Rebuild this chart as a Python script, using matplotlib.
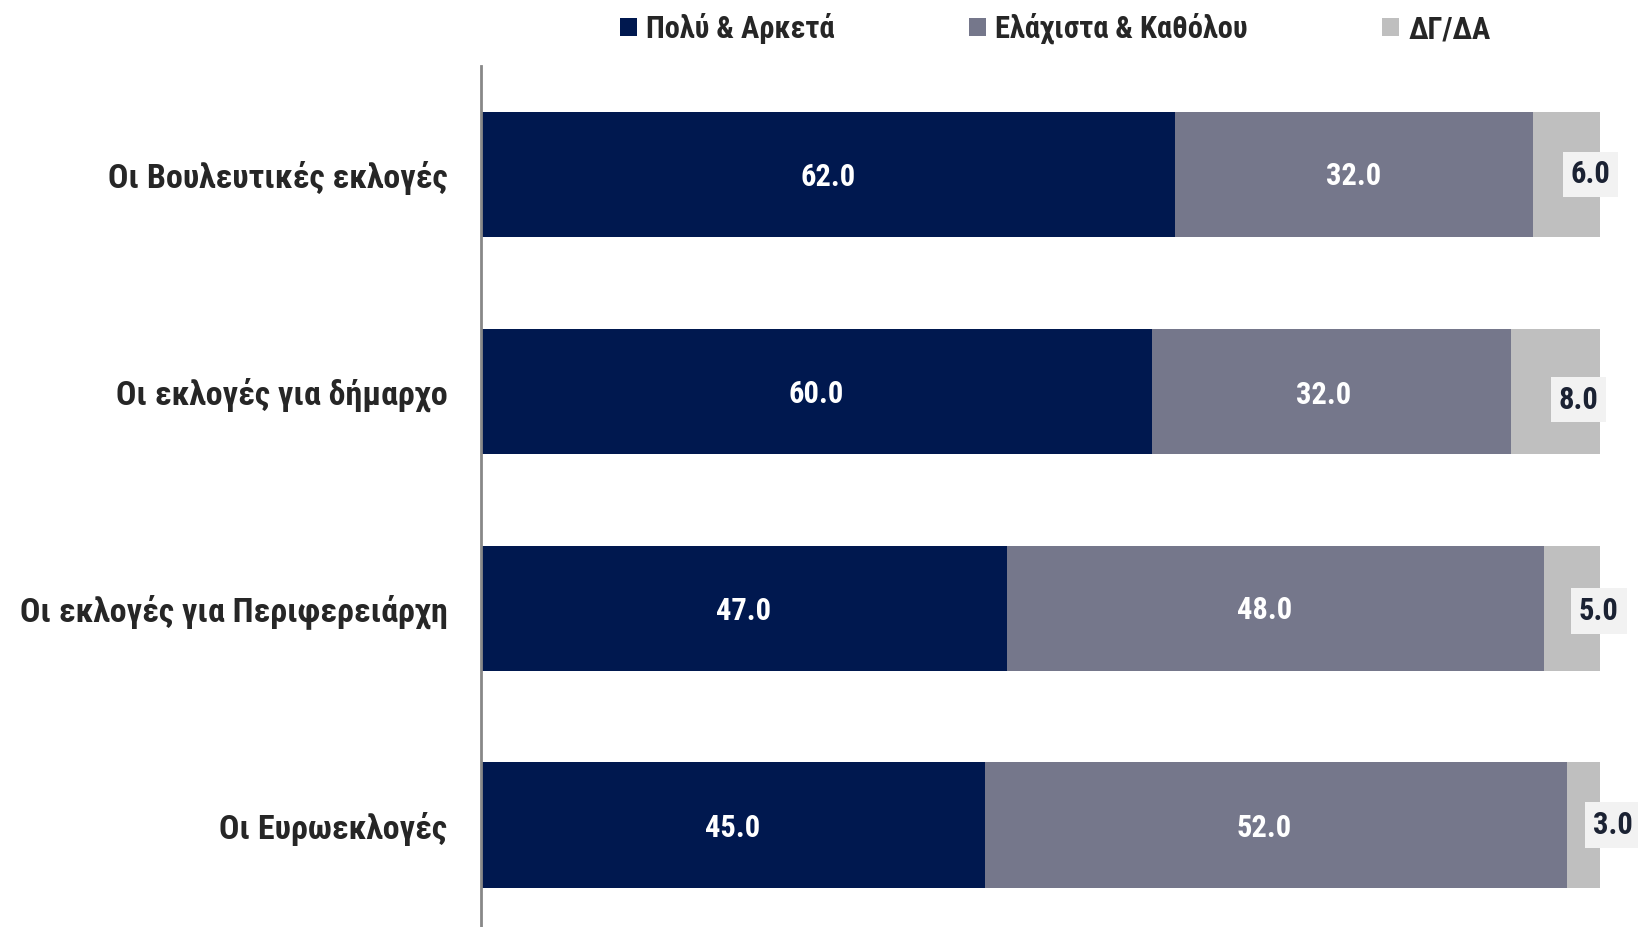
import matplotlib
matplotlib.use('Agg')
import matplotlib.pyplot as plt
from matplotlib.patches import Patch
import numpy as np

plt.rcParams['font.family'] = ['Roboto Condensed', 'DejaVu Sans']
plt.rcParams['font.weight'] = 'bold'

categories = ['Οι Βουλευτικές εκλογές', 'Οι εκλογές για δήμαρχο',
              'Οι εκλογές για Περιφερειάρχη', 'Οι Ευρωεκλογές']
series_names = ['Πολύ & Αρκετά', 'Ελάχιστα & Καθόλου', 'ΔΓ/ΔΑ']
much = [62.0, 60.0, 47.0, 45.0]
little = [32.0, 32.0, 48.0, 52.0]
dkna = [6.0, 8.0, 5.0, 3.0]

colors = ['#00184F', '#75778B', '#BFBFBF']
# small manual nudges (points) of the labels, as in the original
mid_nudge = [(0, -1), (-6, -3), (-8, -1), (-8, -2)]
dkna_nudge = [(-7, 0), (-16, -6), (-1, -2), (9, 0)]

fig = plt.figure(figsize=(16.38, 9.27), dpi=100)
ax = fig.add_axes([0.2935, 0.0, 0.6835, 0.929])

y = np.arange(len(categories))
left = np.zeros(len(categories))
for vals, col in zip([much, little, dkna], colors):
    ax.barh(y, vals, left=left, height=0.577, color=col)
    left += np.array(vals)

for i in range(len(categories)):
    ax.annotate(f'{much[i]:.1f}', xy=(much[i] / 2, y[i]), xytext=(0, -2),
                textcoords='offset points', ha='center', va='center',
                color='white', fontsize=22)
    ax.annotate(f'{little[i]:.1f}', xy=(much[i] + little[i] / 2, y[i]), xytext=mid_nudge[i],
                textcoords='offset points', ha='center', va='center',
                color='white', fontsize=22)
    end = much[i] + little[i] + dkna[i]
    ax.annotate(f'{dkna[i]:.1f}', xy=(end, y[i]), xytext=dkna_nudge[i],
                textcoords='offset points', ha='center', va='center',
                color='#1B2233', fontsize=22,
                bbox=dict(boxstyle='square,pad=0.25', fc='#F2F2F2', ec='none'))

ax.set_xlim(0, 100)
ax.set_ylim(3.47, -0.5)
ax.set_yticks(y)
ax.set_yticklabels(categories, fontsize=24.5, color='#262626')
ax.tick_params(axis='y', length=0, pad=24)
ax.set_xticks([])
for s in ['top', 'right', 'bottom']:
    ax.spines[s].set_visible(False)
ax.spines['left'].set_color('#888888')
ax.spines['left'].set_linewidth(2)

handles = [Patch(facecolor=c, edgecolor='none') for c in colors]
fig.legend(handles, series_names, loc='center left', bbox_to_anchor=(0.362, 0.969),
           ncol=3, frameon=False, fontsize=22, handlelength=0.55, handleheight=0.55,
           handletextpad=0.3, columnspacing=4.4, labelcolor='#262626')

fig.savefig('out.png', dpi=100)
